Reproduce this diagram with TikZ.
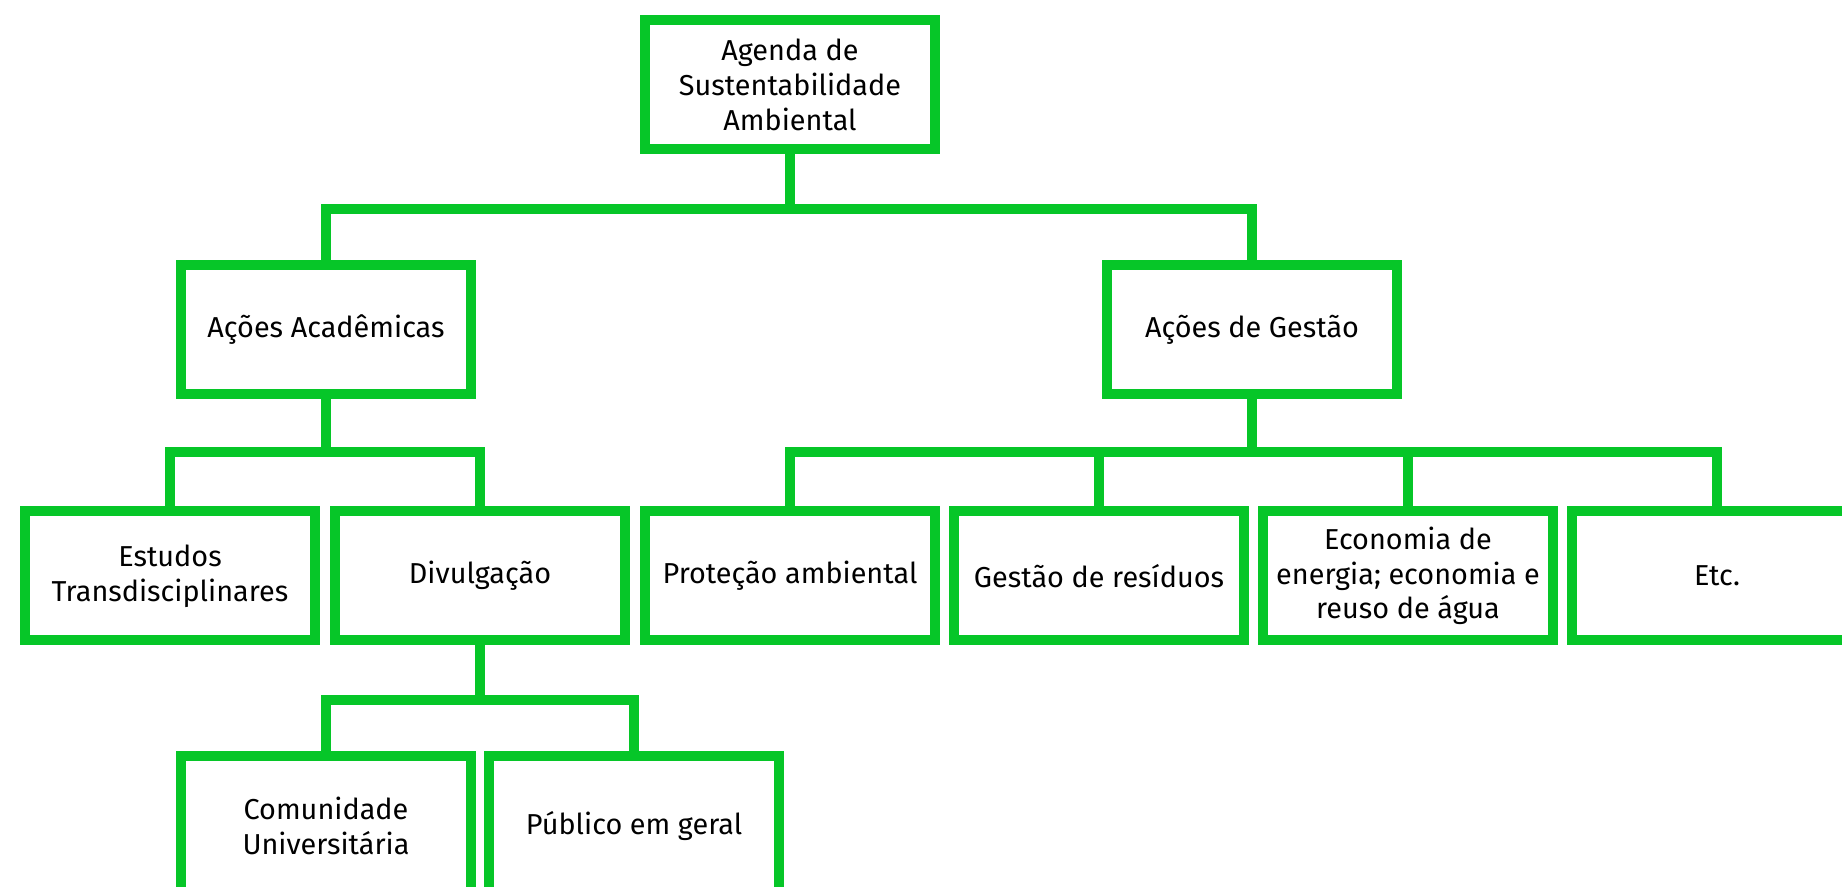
\documentclass[tikz,border=0pt]{standalone}
\usepackage{fontspec}
\setmainfont{Fira Sans}
\definecolor{agreen}{RGB}{6,198,40}
\begin{document}
\begin{tikzpicture}[
 box/.style={draw=agreen,line width=1mm,fill=white,minimum width=2.9cm,minimum height=1.29cm,
  align=center,inner sep=2pt,font=\fontsize{8.2}{9.9}\selectfont},
 link/.style={draw=agreen,line width=1mm}
]
 \path[use as bounding box] (0,0) rectangle (18.42,8.86);
 \clip (0,0) rectangle (18.42,8.86);
 \coordinate (j1) at (7.90,6.77);
 \coordinate (j2) at (3.26,4.34);
 \coordinate (j3) at (12.52,4.34);
 \coordinate (j4) at (4.80,1.86);
 \node[box] (agenda) at (7.90,8.01) {Agenda de\\Sustentabilidade\\Ambiental};
 \node[box] (acad) at (3.26,5.56) {Ações Acadêmicas};
 \node[box] (gest) at (12.52,5.56) {Ações de Gestão};
 \node[box] (estudos) at (1.70,3.10) {Estudos\\Transdisciplinares};
 \node[box] (divulg) at (4.80,3.10) {Divulgação};
 \node[box] (protec) at (7.90,3.10) {Proteção ambiental};
 \node[box] (resid) at (10.99,3.10) {Gestão de resíduos};
 \node[box] (econ) at (14.08,3.10) {Economia de\\energia; economia e\\reuso de água};
 \node[box] (etc) at (17.17,3.10) {Etc.};
 \node[box,minimum height=1.4cm] (comun) at (3.26,0.60) {Comunidade\\Universitária};
 \node[box,minimum height=1.4cm] (public) at (6.34,0.60) {Público em geral};
 \draw[link] (agenda.south) |- (j1) -| (acad.north);
 \draw[link] (agenda.south) |- (j1) -| (gest.north);
 \draw[link] (acad.south) |- (j2) -| (estudos.north);
 \draw[link] (acad.south) |- (j2) -| (divulg.north);
 \draw[link] (gest.south) |- (j3) -| (protec.north);
 \draw[link] (gest.south) |- (j3) -| (resid.north);
 \draw[link] (gest.south) |- (j3) -| (econ.north);
 \draw[link] (gest.south) |- (j3) -| (etc.north);
 \draw[link] (divulg.south) |- (j4) -| (comun.north);
 \draw[link] (divulg.south) |- (j4) -| (public.north);
\end{tikzpicture}
\end{document}
